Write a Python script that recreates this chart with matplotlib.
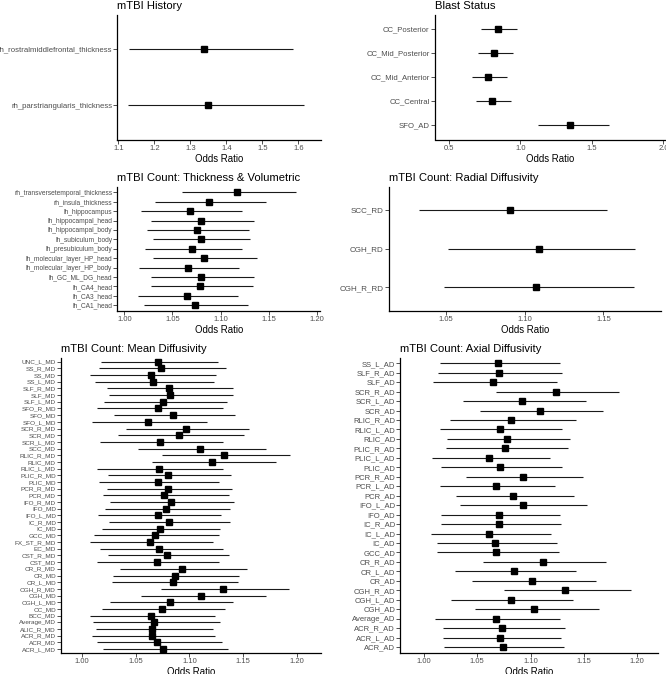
import matplotlib
matplotlib.use("Agg")
import matplotlib.pyplot as plt

plt.rcParams['font.family'] = ['Liberation Sans', 'DejaVu Sans']

# ---------------- data (top row first) ----------------
hist_labels = ["rh_rostralmiddlefrontal_thickness", "rh_parstriangularis_thickness"]
hist_or = [1.338, 1.348]
hist_lo = [1.129, 1.126]
hist_hi = [1.586, 1.616]

blast_labels = ["CC_Posterior", "CC_Mid_Posterior", "CC_Mid_Anterior", "CC_Central", "SFO_AD"]
blast_or = [0.84, 0.815, 0.773, 0.80, 1.344]
blast_lo = [0.726, 0.70, 0.663, 0.69, 1.12]
blast_hi = [0.976, 0.95, 0.906, 0.936, 1.62]

thick_labels = ["rh_transversetemporal_thickness", "rh_insula_thickness", "lh_hippocampus",
                "lh_hippocampal_head", "lh_hippocampal_body", "lh_subiculum_body",
                "lh_presubiculum_body", "lh_molecular_layer_HP_head", "lh_molecular_layer_HP_body",
                "lh_GC_ML_DG_head", "lh_CA4_head", "lh_CA3_head", "lh_CA1_head"]
thick_or = [1.1175, 1.0880, 1.0683, 1.0800, 1.0752, 1.0794, 1.0707, 1.0828, 1.0659,
            1.0800, 1.0787, 1.0649, 1.0735]
thick_lo = [1.0603, 1.0319, 1.0170, 1.0278, 1.0233, 1.0301, 1.0215, 1.0301, 1.0156,
            1.0278, 1.0274, 1.0146, 1.0208]
thick_hi = [1.1785, 1.1473, 1.1227, 1.1351, 1.1300, 1.1310, 1.1220, 1.1379, 1.1189,
            1.1351, 1.1335, 1.1179, 1.1283]

rd_labels = ["SCC_RD", "CGH_RD", "CGH_R_RD"]
rd_or = [1.0905, 1.1089, 1.1072]
rd_lo = [1.0325, 1.051, 1.0486]
rd_hi = [1.152, 1.170, 1.1694]

md_labels = ["UNC_L_MD", "SS_R_MD", "SS_MD", "SS_L_MD", "SLF_R_MD", "SLF_MD", "SLF_L_MD",
             "SFO_R_MD", "SFO_MD", "SFO_L_MD", "SCR_R_MD", "SCR_MD", "SCR_L_MD", "SCC_MD",
             "RLIC_R_MD", "RLIC_MD", "RLIC_L_MD", "PLIC_R_MD", "PLIC_MD", "PCR_R_MD", "PCR_MD",
             "IFO_R_MD", "IFO_MD", "IFO_L_MD", "IC_R_MD", "IC_MD", "GCC_MD", "FX_ST_R_MD",
             "EC_MD", "CST_R_MD", "CST_MD", "CR_R_MD", "CR_MD", "CR_L_MD", "CGH_R_MD",
             "CGH_MD", "CGH_L_MD", "CC_MD", "BCC_MD", "Average_MD", "ALIC_R_MD", "ACR_R_MD",
             "ACR_MD", "ACR_L_MD"]
md_or = [1.0711, 1.0732, 1.0642, 1.0658, 1.0807, 1.0816, 1.0757, 1.0708, 1.0844, 1.0611,
         1.0965, 1.0903, 1.0723, 1.1099, 1.1322, 1.1207, 1.0714, 1.0801, 1.0705, 1.0798,
         1.0767, 1.0826, 1.0782, 1.0705, 1.0813, 1.0729, 1.0677, 1.0633, 1.0720, 1.0791,
         1.0695, 1.0931, 1.0863, 1.0844, 1.1310, 1.1111, 1.0816, 1.0742, 1.0642, 1.0670,
         1.0655, 1.0652, 1.0701, 1.0757]
md_lo = [1.0177, 1.0158, 1.0074, 1.0124, 1.0236, 1.0248, 1.0205, 1.0143, 1.0298, 1.0090,
         1.0410, 1.0335, 1.0168, 1.0525, 1.0742, 1.0649, 1.0143, 1.0245, 1.0161, 1.0230,
         1.0199, 1.0261, 1.0217, 1.0152, 1.0251, 1.0189, 1.0115, 1.0074, 1.0164, 1.0239,
         1.0143, 1.0354, 1.0292, 1.0276, 1.0732, 1.0552, 1.0261, 1.0183, 1.0074, 1.0099,
         1.0130, 1.0096, 1.0137, 1.0192]
md_hi = [1.1269, 1.1338, 1.1248, 1.1229, 1.1406, 1.1409, 1.1347, 1.1310, 1.1425, 1.1161,
         1.1552, 1.1505, 1.1313, 1.1710, 1.1940, 1.1803, 1.1316, 1.1387, 1.1276, 1.1400,
         1.1366, 1.1418, 1.1378, 1.1291, 1.1378, 1.1288, 1.1276, 1.1223, 1.1310, 1.1372,
         1.1273, 1.1539, 1.1465, 1.1449, 1.1924, 1.1710, 1.1403, 1.1335, 1.1241, 1.1285,
         1.1217, 1.1241, 1.1300, 1.1362]

ad_labels = ["SS_L_AD", "SLF_R_AD", "SLF_AD", "SCR_R_AD", "SCR_L_AD", "SCR_AD", "RLIC_R_AD",
             "RLIC_L_AD", "RLIC_AD", "PLIC_R_AD", "PLIC_L_AD", "PLIC_AD", "PCR_R_AD",
             "PCR_L_AD", "PCR_AD", "IFO_L_AD", "IFO_AD", "IC_R_AD", "IC_L_AD", "IC_AD",
             "GCC_AD", "CR_R_AD", "CR_L_AD", "CR_AD", "CGH_R_AD", "CGH_L_AD", "CGH_AD",
             "Average_AD", "ACR_R_AD", "ACR_L_AD", "ACR_AD"]
ad_or = [1.0695, 1.0701, 1.0648, 1.1236, 1.0923, 1.1086, 1.0820, 1.0710, 1.0776, 1.0761,
         1.0610, 1.0714, 1.0930, 1.0673, 1.0839, 1.0926, 1.0704, 1.0707, 1.0610, 1.0667,
         1.0673, 1.1114, 1.0842, 1.1017, 1.1324, 1.0814, 1.1036, 1.0676, 1.0736, 1.0717,
         1.0739]
ad_lo = [1.0153, 1.0135, 1.0085, 1.0673, 1.0366, 1.0523, 1.0247, 1.0153, 1.0213, 1.0207,
         1.0075, 1.0163, 1.0394, 1.0147, 1.0304, 1.0338, 1.0163, 1.0156, 1.0069, 1.0125,
         1.0119, 1.0554, 1.0288, 1.0454, 1.0748, 1.0254, 1.0476, 1.0106, 1.0175, 1.0175,
         1.0188]
ad_hi = [1.1274, 1.1299, 1.1249, 1.1831, 1.1518, 1.1684, 1.1424, 1.1299, 1.1368, 1.1349,
         1.1180, 1.1293, 1.1496, 1.1227, 1.1405, 1.1531, 1.1277, 1.1290, 1.1189, 1.1246,
         1.1268, 1.1706, 1.1424, 1.1612, 1.1947, 1.1399, 1.1640, 1.1280, 1.1321, 1.1283,
         1.1315]

# ---------------- figure ----------------
W, H = 666, 674
fig = plt.figure(figsize=(W / 100, H / 100), dpi=100)


def rect(l, r, t, b):
    return [l / W, 1 - b / H, (r - l) / W, (b - t) / H]


def forest(box, title, labels, orv, lo, hi, xlim, xticks, xticklabels, ylab_size, msize=3.9):
    ax = fig.add_axes(box)
    n = len(labels)
    ys = [n - 1 - i for i in range(n)]
    ax.hlines(ys, lo, hi, color='#1a1a1a', lw=0.8, zorder=2)
    ax.plot(orv, ys, ls='none', marker='s', ms=msize, color='black', zorder=3)
    ax.set_ylim(-0.6, n - 0.4)
    ax.set_xlim(*xlim)
    ax.set_yticks(ys)
    ax.set_yticklabels(labels, fontsize=ylab_size, color='#4d4d4d')
    ax.set_xticks(xticks)
    ax.set_xticklabels(xticklabels, fontsize=5.5, color='#4d4d4d')
    for s in ('top', 'right'):
        ax.spines[s].set_visible(False)
    for s in ('left', 'bottom'):
        ax.spines[s].set_linewidth(0.9)
        ax.spines[s].set_color('black')
    ax.tick_params(axis='both', length=2.7, width=0.6, color='#333333', pad=1)
    ax.set_xlabel('Odds Ratio', fontsize=6.9, labelpad=1.5)
    ax.set_title(title, loc='left', fontsize=8.1, pad=4)
    return ax


forest(rect(117.3, 321, 14.8, 139.5), 'mTBI History', hist_labels, hist_or, hist_lo, hist_hi,
       (1.097, 1.663), [1.1, 1.2, 1.3, 1.4, 1.5, 1.6], ['1.1', '1.2', '1.3', '1.4', '1.5', '1.6'], 5.6)

forest(rect(434.7, 665, 14.8, 139.5), 'Blast Status', blast_labels, blast_or, blast_lo, blast_hi,
       (0.40, 2.011), [0.5, 1.0, 1.5, 2.0], ['0.5', '1.0', '1.5', '2.0'], 5.6)

forest(rect(117.3, 320, 186.7, 310.8), 'mTBI Count: Thickness & Volumetric', thick_labels,
       thick_or, thick_lo, thick_hi, (0.9927, 1.2034),
       [1.00, 1.05, 1.10, 1.15, 1.20], ['1.00', '1.05', '1.10', '1.15', '1.20'], 4.8)

forest(rect(389, 661, 186.5, 310.6), 'mTBI Count: Radial Diffusivity', rd_labels, rd_or, rd_lo, rd_hi,
       (1.0136, 1.1866), [1.05, 1.10, 1.15], ['1.05', '1.10', '1.15'], 5.8)

forest(rect(61, 320.7, 357.7, 653), 'mTBI Count: Mean Diffusivity', md_labels, md_or, md_lo, md_hi,
       (0.9804, 1.2223), [1.00, 1.05, 1.10, 1.15, 1.20], ['1.00', '1.05', '1.10', '1.15', '1.20'], 4.6)

forest(rect(400.3, 658, 357.6, 652.7), 'mTBI Count: Axial Diffusivity', ad_labels, ad_or, ad_lo, ad_hi,
       (0.9777, 1.2197), [1.00, 1.05, 1.10, 1.15, 1.20], ['1.00', '1.05', '1.10', '1.15', '1.20'], 5.5)

fig.savefig('out.png', dpi=100)
